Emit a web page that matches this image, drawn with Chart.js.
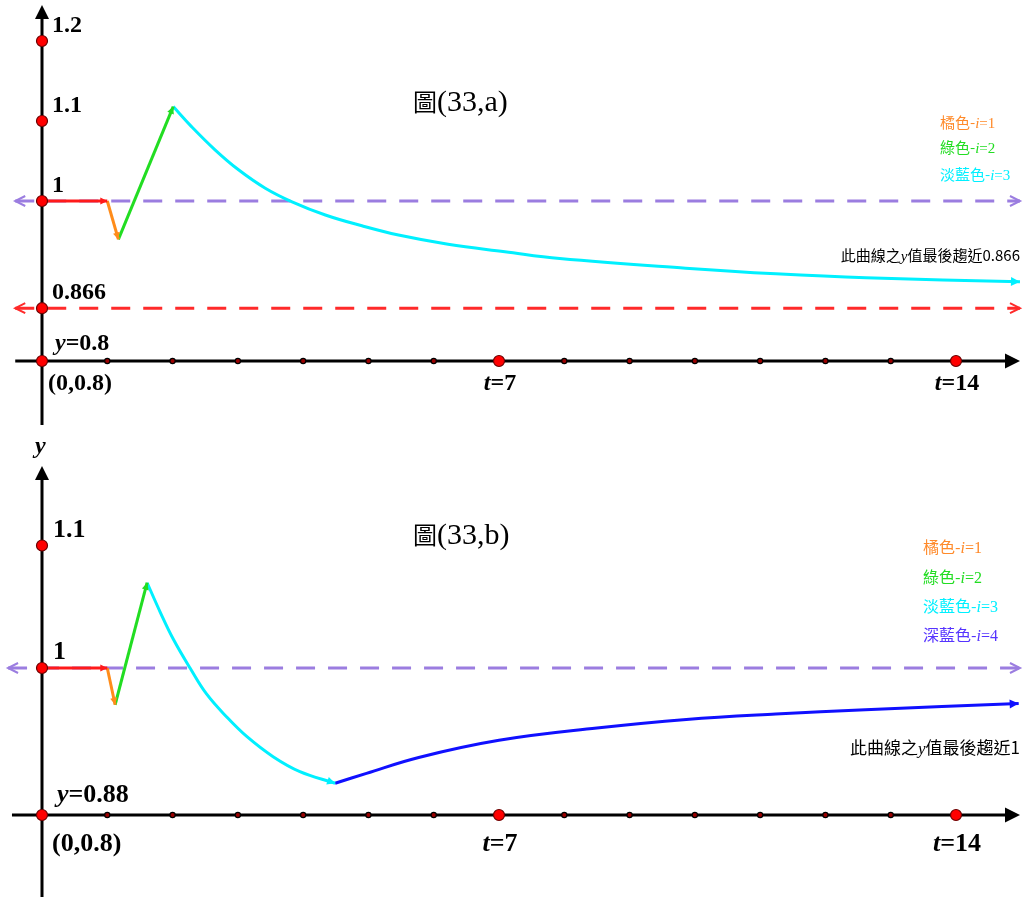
<!DOCTYPE html>
<html><head><meta charset="utf-8">
<script src="https://cdn.jsdelivr.net/npm/chart.js@4.4.0/dist/chart.umd.min.js"></script>
<style>
html,body{margin:0;padding:0;background:#fff;}
#wrap{position:relative;width:1030px;height:897px;overflow:hidden;}
#ca{position:absolute;left:0;top:0;}
#cb{position:absolute;left:0;top:420px;}
</style></head><body>
<div id="wrap"><canvas id="ca" width="1030" height="420"></canvas><canvas id="cb" width="1030" height="477"></canvas></div>
<script>
// ---------- data: panel (33,a) ----------
const aRedT=[0,1], aRedY=[1,1];
const aOrangeT=[1,1.17], aOrangeY=[1,0.952];
const aGreenT=[1.17,2.01], aGreenY=[0.952,1.118];
const aCyanT=[2.01,2.29,2.65,3.01,3.42,3.83,4.34,4.90,5.46,6.22,7.09,7.93,9.86,11.24,12.62,14.98];
const aCyanY=[1.118,1.093,1.064,1.039,1.016,0.999,0.9825,0.969,0.9575,0.946,0.9366,0.928,0.916,0.909,0.904,0.899];
const aPurpleT=[-0.41,14.98], aPurpleY=[1,1];
const aLimitT=[-0.41,14.98], aLimitY=[0.866,0.866];
const aYTickVals=[1.2,1.1,1,0.866];
const aYTickLabels=['1.2','1.1','1','0.866'];
// ---------- data: panel (33,b) ----------
const bRedT=[0,1], bRedY=[1,1];
const bOrangeT=[1,1.12], bOrangeY=[1,0.970];
const bGreenT=[1.12,1.61], bGreenY=[0.970,1.0696];
const bCyanT=[1.61,1.81,2.01,2.27,2.52,2.83,3.14,3.54,3.95,4.49];
const bCyanY=[1.0696,1.0457,1.0237,0.9998,0.9788,0.960,0.9439,0.9276,0.9154,0.9059];
const bBlueT=[4.49,4.97,5.77,7.0,8.5,9.87,11.24,12.61,14.96];
const bBlueY=[0.9059,0.914,0.927,0.941,0.951,0.958,0.9625,0.966,0.971];
const bPurpleT=[-0.52,14.98], bPurpleY=[1,1];
const bYTickVals=[1.1,1];
const bYTickLabels=['1.1','1'];
// ---------- shared tick data / texts ----------
const tTicks=[1,2,3,4,5,6,7,8,9,10,11,12,13,14];
const tMajor=[7,14];
const tMajorLabels=['7','14'];
const legendNamesA=['橘色-','綠色-','淡藍色-'];
const legendNamesB=['橘色-','綠色-','淡藍色-','深藍色-'];
const legendIdx=['1','2','3','4'];
const legendColors=['#ff8a2a','#22dd22','#00f0ff','#5533ff'];
const titleA=['圖','(33,a)'];
const titleB=['圖','(33,b)'];
const noteA=['此曲線之','y','值最後趨近0.866'];
const noteB=['此曲線之','y','值最後趨近1'];

const SERIF='"Liberation Serif","DejaVu Serif",serif';
const CJK='"Noto Sans CJK TC","Noto Sans CJK SC",sans-serif';
const PXT=(956-42)/14;

function pts(ts,ys){return ts.map((t,i)=>({x:t,y:ys[i]}));}
function ds(ts,ys,color,extra){
  return Object.assign({data:pts(ts,ys),borderColor:color,backgroundColor:color,borderWidth:3,
    pointRadius:0,pointHoverRadius:0,fill:false,tension:0},extra||{});
}
function rich(ctx,x,y,segs,align){
  let w=0; segs.forEach(s=>{ctx.font=s.f;w+=ctx.measureText(s.t).width;});
  let cx=align==='center'?x-w/2:(align==='right'?x-w:x);
  ctx.textBaseline='alphabetic';ctx.textAlign='left';
  segs.forEach(s=>{ctx.font=s.f;ctx.fillStyle=s.c||'#000';ctx.fillText(s.t,cx,y);cx+=ctx.measureText(s.t).width;});
}
function head(ctx,x1,y1,x2,y2,size,color,open){
  const a=Math.atan2(y2-y1,x2-x1);
  ctx.save();ctx.translate(x2,y2);ctx.rotate(a);
  ctx.beginPath();ctx.moveTo(-size,-size*0.5);ctx.lineTo(0,0);ctx.lineTo(-size,size*0.5);
  if(open){ctx.strokeStyle=color;ctx.lineWidth=2;ctx.setLineDash([]);ctx.stroke();}
  else{ctx.closePath();ctx.fillStyle=color;ctx.fill();}
  ctx.restore();
}
function dot(ctx,x,y,r,fill,stroke){
  ctx.beginPath();ctx.arc(x,y,r,0,Math.PI*2);ctx.fillStyle=fill;ctx.fill();
  ctx.lineWidth=1.2;ctx.strokeStyle=stroke;ctx.stroke();
}

function makeDeco(cfg){
  return {
    id:'deco',
    beforeDatasetsDraw(chart){
      const ctx=chart.ctx,xs=chart.scales.x,ys=chart.scales.y;
      const x0=xs.getPixelForValue(0),yA=ys.getPixelForValue(cfg.axisY);
      ctx.save();ctx.strokeStyle='#000';ctx.lineWidth=3;ctx.setLineDash([]);
      const xl=xs.getPixelForValue(cfg.xFrom),xr=xs.getPixelForValue(cfg.xTo);
      ctx.beginPath();ctx.moveTo(xl,yA);ctx.lineTo(xr-8,yA);ctx.stroke();
      head(ctx,xl,yA,xr,yA,15,'#000',false);
      const yt=ys.getPixelForValue(cfg.yTop);
      ctx.beginPath();ctx.moveTo(x0,yt+8);ctx.lineTo(x0,chart.height);ctx.stroke();
      head(ctx,x0,yt+20,x0,yt,14,'#000',false);
      if(cfg.stub){ctx.beginPath();ctx.moveTo(x0,0);ctx.lineTo(x0,cfg.stub);ctx.stroke();}
      ctx.restore();
    },
    afterDatasetsDraw(chart){
      const ctx=chart.ctx,xs=chart.scales.x,ys=chart.scales.y;
      ctx.save();
      chart.data.datasets.forEach((d,i)=>{
        if(!d.arrow)return;
        const m=chart.getDatasetMeta(i).data,n=m.length;
        const c=d.arrowColor||d.borderColor;
        if(d.arrow==='both'){
          head(ctx,m[1].x,m[1].y,m[0].x,m[0].y,10,c,true);
          head(ctx,m[n-2].x,m[n-2].y,m[n-1].x,m[n-1].y,10,c,true);
        }else{
          head(ctx,m[n-2].x,m[n-2].y,m[n-1].x,m[n-1].y,d.arrowSize||8,c,false);
        }
      });
      const x0=xs.getPixelForValue(0),yA=ys.getPixelForValue(cfg.axisY);
      tTicks.forEach(t=>{
        const x=xs.getPixelForValue(t);
        if(tMajor.includes(t))dot(ctx,x,yA,5.5,'#ff0000','#6a0000');
        else dot(ctx,x,yA,2.6,'#9a0000','#000');
      });
      cfg.yDots.forEach(v=>dot(ctx,x0,ys.getPixelForValue(v),5.5,'#ff0000','#6a0000'));
      dot(ctx,x0,yA,5.5,'#ff0000','#6a0000');
      const fb='bold '+cfg.fs+'px '+SERIF, fi='italic bold '+cfg.fs+'px '+SERIF;
      cfg.yVals.forEach((v,k)=>{
        rich(ctx,x0+cfg.lx,ys.getPixelForValue(v)-cfg.ldy,[{t:cfg.yLabels[k],f:fb}],'left');
      });
      rich(ctx,x0+cfg.ox,yA+cfg.oy,[{t:'y',f:fi},{t:'='+cfg.originVal,f:fb}],'left');
      rich(ctx,x0+cfg.px,yA+cfg.py,[{t:'(0,0.8)',f:fb}],'left');
      tMajor.forEach((t,k)=>{
        rich(ctx,xs.getPixelForValue(t)+1,yA+cfg.py,[{t:'t',f:fi},{t:'='+tMajorLabels[k],f:fb}],'center');
      });
      if(cfg.yName)rich(ctx,x0-7,cfg.yName,[{t:'y',f:'italic bold 24px '+SERIF}],'left');
      rich(ctx,413,cfg.titleY,[{t:cfg.title[0],f:'24px '+CJK},{t:cfg.title[1],f:'30px '+SERIF}],'left');
      cfg.legend.forEach((nm,k)=>{
        const c=legendColors[k];
        rich(ctx,cfg.legX,cfg.legY[k],[{t:nm,f:cfg.legFs+'px '+CJK,c},{t:'i',f:'italic '+cfg.legFs+'px '+SERIF,c},{t:'='+legendIdx[k],f:cfg.legFs+'px '+SERIF,c}],'left');
      });
      rich(ctx,1020,cfg.noteY,[{t:cfg.note[0],f:cfg.noteFs+'px '+CJK},{t:cfg.note[1],f:'italic '+cfg.noteFs+'px '+SERIF},{t:cfg.note[2],f:cfg.noteFs+'px '+CJK}],'right');
      ctx.restore();
    }
  };
}

function opts(yMin,yMax){
  return {responsive:false,animation:false,events:[],
    layout:{padding:0},
    plugins:{legend:{display:false},tooltip:{enabled:false},title:{display:false}},
    scales:{
      x:{type:'linear',display:false,min:-42/PXT,max:(1030-42)/PXT},
      y:{type:'linear',display:false,min:yMin,max:yMax}
    }};
}

const curve={tension:0.4};
new Chart(document.getElementById('ca'),{
  type:'line',
  data:{datasets:[
    ds(aRedT,aRedY,'#ff1a1a',{arrow:'end',arrowSize:7}),
    ds(aOrangeT,aOrangeY,'#ff8c1a',{arrow:'end',arrowSize:7}),
    ds(aGreenT,aGreenY,'#22dd22',{arrow:'end',arrowSize:7}),
    ds(aCyanT,aCyanY,'#00f0ff',Object.assign({arrow:'end',arrowSize:9},curve)),
    ds(aPurpleT,aPurpleY,'#9b7de0',{borderDash:[19,13],arrow:'both'}),
    ds(aLimitT,aLimitY,'#ff2a2a',{borderDash:[19,13],arrow:'both'})
  ]},
  options:opts(0.8-(420-361)/800,0.8+361/800),
  plugins:[makeDeco({axisY:0.8,xFrom:-0.41,xTo:14.98,yTop:1.245,stub:0,
    yDots:aYTickVals,yVals:aYTickVals,yLabels:aYTickLabels,fs:24,lx:10,ldy:9,
    originVal:'0.8',ox:13,oy:-11,px:6,py:29,title:titleA,titleY:111,
    legend:legendNamesA,legX:940,legY:[128,153,180],legFs:15,
    note:noteA,noteY:261,noteFs:15})]
});

new Chart(document.getElementById('cb'),{
  type:'line',
  data:{datasets:[
    ds(bRedT,bRedY,'#ff1a1a',{arrow:'end',arrowSize:7}),
    ds(bOrangeT,bOrangeY,'#ff8c1a',{arrow:'end',arrowSize:7}),
    ds(bGreenT,bGreenY,'#22dd22',{arrow:'end',arrowSize:7}),
    ds(bCyanT,bCyanY,'#00f0ff',Object.assign({arrow:'end',arrowSize:8},curve)),
    ds(bBlueT,bBlueY,'#1010ff',Object.assign({arrow:'end',arrowSize:9},curve)),
    ds(bPurpleT,bPurpleY,'#9b7de0',{borderDash:[19,13],arrow:'both'})
  ]},
  options:opts(0.88-(477-395)/1225,1+248/1225),
  plugins:[makeDeco({axisY:0.88,xFrom:-0.46,xTo:14.98,yTop:1.165,stub:5,yName:33,
    yDots:bYTickVals,yVals:bYTickVals,yLabels:bYTickLabels,fs:26,lx:11,ldy:9,
    originVal:'0.88',ox:15,oy:-13,px:10,py:36,title:titleB,titleY:124,
    legend:legendNamesB,legX:923,legY:[133,163,192,221],legFs:16,
    note:noteB,noteY:334,noteFs:17})]
});
</script>
</body></html>
